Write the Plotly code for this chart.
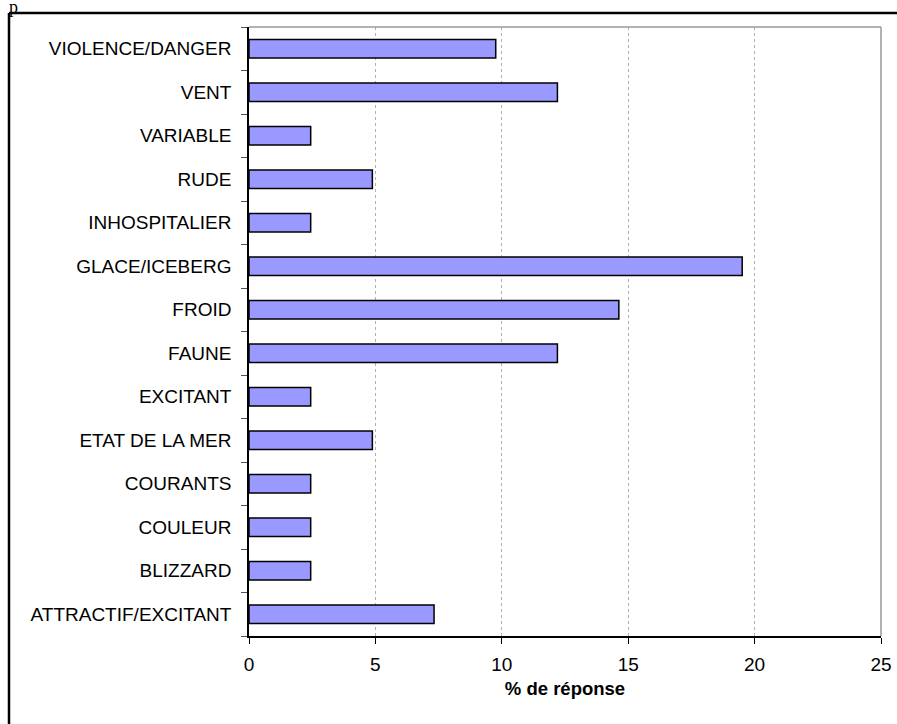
import plotly.graph_objects as go

categories = ["ATTRACTIF/EXCITANT", "BLIZZARD", "COULEUR", "COURANTS", "ETAT DE LA MER",
              "EXCITANT", "FAUNE", "FROID", "GLACE/ICEBERG", "INHOSPITALIER", "RUDE",
              "VARIABLE", "VENT", "VIOLENCE/DANGER"]
values = [7.32, 2.44, 2.44, 2.44, 4.88, 2.44, 12.2, 14.63, 19.51, 2.44, 4.88, 2.44, 12.2, 9.76]
x_ticks = [0, 5, 10, 15, 20, 25]
x_title = "% de réponse"

W, H = 897, 724
L, R, T, B = 249, 881, 27, 636

def px(xp):
    return (xp - L) / (R - L)

def py(yp):
    return (B - yp) / (B - T)

fig = go.Figure(go.Bar(
    x=values, y=categories, orientation="h",
    marker=dict(color="#9999FF", line=dict(color="black", width=1.5)),
    width=0.42,
))

font = "Liberation Sans, Arial, sans-serif"
fig.update_layout(
    width=W, height=H,
    margin=dict(l=L, r=W - R, t=T, b=H - B, pad=0),
    paper_bgcolor="white", plot_bgcolor="white",
    showlegend=False,
    font=dict(family=font, size=18, color="black"),
    title=dict(text="p", xref="container", yref="container", x=9 / W, y=0.9905,
               xanchor="left", yanchor="middle", pad=dict(t=0, b=0, l=0, r=0),
               font=dict(family="Liberation Serif, serif", size=18, color="black")),
    xaxis=dict(range=[0, 25], tickvals=x_ticks, showgrid=True, gridcolor="#b0b0b0",
               griddash="dot", gridwidth=1, showline=True, linecolor="black", linewidth=1.5,
               ticks="outside", ticklen=6, tickcolor="black", zeroline=False, automargin=False,
               tickfont=dict(size=19), ticklabelstandoff=4,
               title=dict(text="<b>" + x_title + "</b>", font=dict(size=18.5), standoff=9)),
    yaxis=dict(type="category", categoryorder="array", categoryarray=categories,
               range=[-0.5, len(categories) - 0.5], showline=True, linecolor="black",
               linewidth=1.5, ticks="outside", ticklen=6, tickcolor="#555555", automargin=False,
               tickson="boundaries", showgrid=False, tickfont=dict(size=19),
               ticklabelstandoff=12),
    shapes=[
        dict(type="line", xref="paper", yref="paper", x0=0, x1=1, y0=1, y1=1,
             line=dict(color="#999999", width=1.5)),
        dict(type="line", xref="paper", yref="paper", x0=1, x1=1, y0=0, y1=1,
             line=dict(color="#999999", width=1.5)),
        dict(type="line", xref="paper", yref="paper", x0=px(9), x1=px(W), y0=py(13), y1=py(13),
             line=dict(color="black", width=2.5)),
        dict(type="line", xref="paper", yref="paper", x0=px(9), x1=px(9), y0=py(13), y1=py(H),
             line=dict(color="black", width=2.5)),
    ],
)

fig.write_html("out.html", config={"displayModeBar": False},
               post_script="document.body.style.margin='0';document.body.style.overflow='hidden';")
